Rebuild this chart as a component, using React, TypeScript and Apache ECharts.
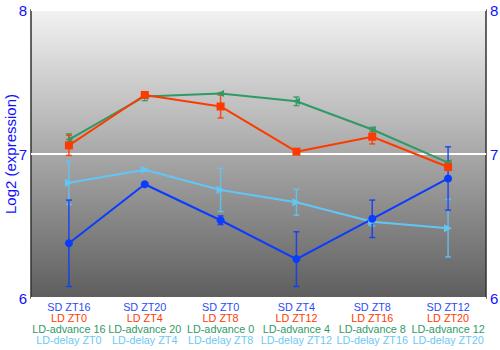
import React, { useEffect, useRef } from "react";
import * as echarts from "echarts";

const sdLabels = ["SD ZT16", "SD ZT20", "SD ZT0", "SD ZT4", "SD ZT8", "SD ZT12"];
const ldLabels = ["LD ZT0", "LD ZT4", "LD ZT8", "LD ZT12", "LD ZT16", "LD ZT20"];
const advLabels = ["LD-advance 16", "LD-advance 20", "LD-advance 0", "LD-advance 4", "LD-advance 8", "LD-advance 12"];
const delayLabels = ["LD-delay ZT0", "LD-delay ZT4", "LD-delay ZT8", "LD-delay ZT12", "LD-delay ZT16", "LD-delay ZT20"];

const sdValues = [6.38, 6.79, 6.54, 6.27, 6.55, 6.83];
const sdErrors = [0.3, 0.01, 0.03, 0.19, 0.13, 0.22];
const ldValues = [7.06, 7.41, 7.33, 7.016, 7.12, 6.91];
const ldErrors = [0.07, 0.02, 0.08, 0.005, 0.05, 0.02];
const advValues = [7.1, 7.4, 7.42, 7.366, 7.17, 6.94];
const advErrors = [0.04, 0.03, 0.005, 0.03, 0.015, 0.01];
const delayValues = [6.8, 6.89, 6.75, 6.665, 6.53, 6.485];
const delayErrors = [0.15, 0.01, 0.15, 0.09, 0.03, 0.2];

const cats = sdLabels.map((_, i) => String(i));

const C_SD = "#0a3cff";
const C_LD = "#ff3a00";
const C_ADV = "#2f9a64";
const C_DELAY = "#62c6f5";
const FONT = "Liberation Sans, Arial, sans-serif";

function errorSeries(values: number[], errors: number[], color: string) {
  return {
    type: "custom",
    silent: true,
    data: values.map((v, i) => [i, v - errors[i], v + errors[i]]),
    renderItem: (params: any, api: any) => {
      const x = api.value(0);
      const lo = api.coord([x, api.value(1)]);
      const hi = api.coord([x, api.value(2)]);
      const w = 3;
      const style = { stroke: color, lineWidth: 1.5, opacity: 0.85 };
      return {
        type: "group",
        children: [
          { type: "line", shape: { x1: lo[0], y1: lo[1], x2: hi[0], y2: hi[1] }, style },
          { type: "line", shape: { x1: lo[0] - w, y1: lo[1], x2: lo[0] + w, y2: lo[1] }, style },
          { type: "line", shape: { x1: hi[0] - w, y1: hi[1], x2: hi[0] + w, y2: hi[1] }, style },
        ],
      };
    },
    z: 3,
  };
}

function lineSeries(name: string, values: number[], color: string, symbol: string, size: number, rotate = 0) {
  return {
    name,
    type: "line",
    data: values,
    symbol,
    symbolSize: size,
    symbolRotate: rotate,
    showAllSymbol: true,
    lineStyle: { color, width: 2 },
    itemStyle: { color },
    z: 4,
  };
}

export default function App() {
  const ref = useRef<HTMLDivElement>(null);
  useEffect(() => {
    const chart = echarts.init(ref.current!, undefined, { renderer: "svg" });
    const yAxisBase = {
      type: "value",
      min: 6,
      max: 8,
      interval: 1,
      axisLine: { show: false },
      axisTick: { show: false },
      axisLabel: { color: "#1010ff", fontSize: 15, fontFamily: FONT, margin: 4 },
    };
    const rich: any = {};
    const richColors: Record<string, string> = { a: "#2a4cf5", b: "#ff3a00", c: "#2f9a64", d: "#6cc8f5" };
    Object.keys(richColors).forEach((k) => {
      rich[k] = { color: richColors[k], fontSize: 10.8, lineHeight: 11, fontFamily: FONT };
    });
    chart.setOption({
      animation: false,
      grid: {
        left: 31,
        right: 14,
        top: 10,
        bottom: 52,
        containLabel: false,
        outerBoundsMode: "none",
        show: true,
        borderColor: "#333",
        borderWidth: 1.5,
        backgroundColor: new echarts.graphic.LinearGradient(0, 0, 0, 1, [
          { offset: 0, color: "#f2f2f2" },
          { offset: 1, color: "#5e5e5e" },
        ]),
      },
      xAxis: {
        type: "category",
        data: cats,
        axisLine: { show: false },
        axisTick: { show: false },
        axisLabel: {
          interval: 0,
          margin: 3,
          formatter: (v: string) => {
            const i = Number(v);
            return `{a|${sdLabels[i]}}\n{b|${ldLabels[i]}}\n{c|${advLabels[i]}}\n{d|${delayLabels[i]}}`;
          },
          rich,
        },
      },
      yAxis: [
        {
          ...yAxisBase,
          name: "Log2 (expression)",
          nameLocation: "middle",
          nameGap: 13,
          nameMoveOverlap: false,
          nameTextStyle: { color: "#1010ff", fontSize: 15, fontFamily: FONT },
          splitLine: { show: true, lineStyle: { color: "#ffffff", width: 2 } },
        },
        {
          ...yAxisBase,
          position: "right",
          splitLine: { show: false },
        },
      ],
      series: [
        errorSeries(advValues, advErrors, C_ADV),
        errorSeries(ldValues, ldErrors, C_LD),
        errorSeries(delayValues, delayErrors, C_DELAY),
        errorSeries(sdValues, sdErrors, C_SD),
        lineSeries("LD-advance", advValues, C_ADV, "triangle", 7, 90),
        lineSeries("LD", ldValues, C_LD, "rect", 8),
        lineSeries("LD-delay", delayValues, C_DELAY, "triangle", 8, -90),
        lineSeries("SD", sdValues, C_SD, "circle", 8),
      ],
    });
    return () => chart.dispose();
  }, []);
  return <div ref={ref} style={{ position: "absolute", left: 0, top: 0, width: 500, height: 350 }} />;
}
